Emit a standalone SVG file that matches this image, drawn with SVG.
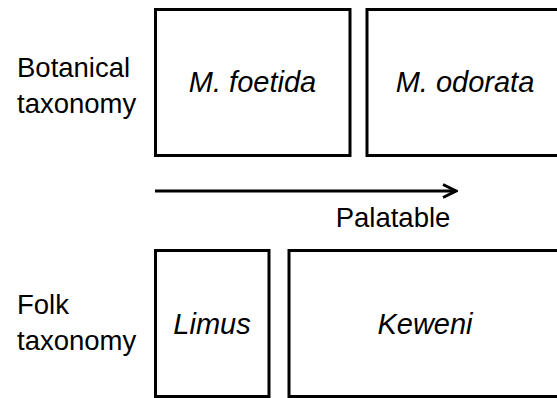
<svg xmlns="http://www.w3.org/2000/svg" width="557" height="398" viewBox="0 0 557 398">
  <style>
    .box { fill: #ffffff; stroke: #000000; stroke-width: 3; }
    .label { font-family: "Liberation Sans", Arial, sans-serif; font-size: 27.5px; fill: #000000; }
    .taxon { font-family: "Liberation Sans", Arial, sans-serif; font-size: 29px; font-style: italic; fill: #000000; text-anchor: middle; }
    .axis { stroke: #000000; stroke-width: 3; fill: none; }
  </style>
  <defs>
    <marker id="chevron" viewBox="0 0 16 16" refX="14" refY="8" markerWidth="16" markerHeight="16" markerUnits="userSpaceOnUse" orient="auto">
      <path d="M1,1.5 L14,8 L1,14.5" fill="none" stroke="#000000" stroke-width="3"/>
    </marker>
  </defs>
  <rect width="557" height="398" fill="#ffffff"/>

  <!-- row labels -->
  <g id="row-botanical">
    <text class="label" x="17" y="77">Botanical</text>
    <text class="label" x="17" y="113">taxonomy</text>
  </g>
  <g id="row-folk">
    <text class="label" x="17" y="314">Folk</text>
    <text class="label" x="17" y="350">taxonomy</text>
  </g>

  <!-- botanical taxa -->
  <g id="m-foetida">
    <rect class="box" x="155.5" y="9.5" width="194.5" height="146"/>
    <text class="taxon" x="252.5" y="92">M. foetida</text>
  </g>
  <g id="m-odorata">
    <rect class="box" x="367" y="9.5" width="200" height="146"/>
    <text class="taxon" x="465" y="92">M. odorata</text>
  </g>

  <!-- palatability axis -->
  <g id="connectors">
    <line class="axis" x1="155" y1="191" x2="456" y2="191" marker-end="url(#chevron)"/>
  </g>
  <g id="palatable">
    <text class="label" x="393" y="227" text-anchor="middle">Palatable</text>
  </g>

  <!-- folk taxa -->
  <g id="limus">
    <rect class="box" x="155.5" y="250.5" width="113.5" height="146"/>
    <text class="taxon" x="212" y="334">Limus</text>
  </g>
  <g id="keweni">
    <rect class="box" x="289" y="250.5" width="278" height="146"/>
    <text class="taxon" x="425" y="334">Keweni</text>
  </g>
</svg>
